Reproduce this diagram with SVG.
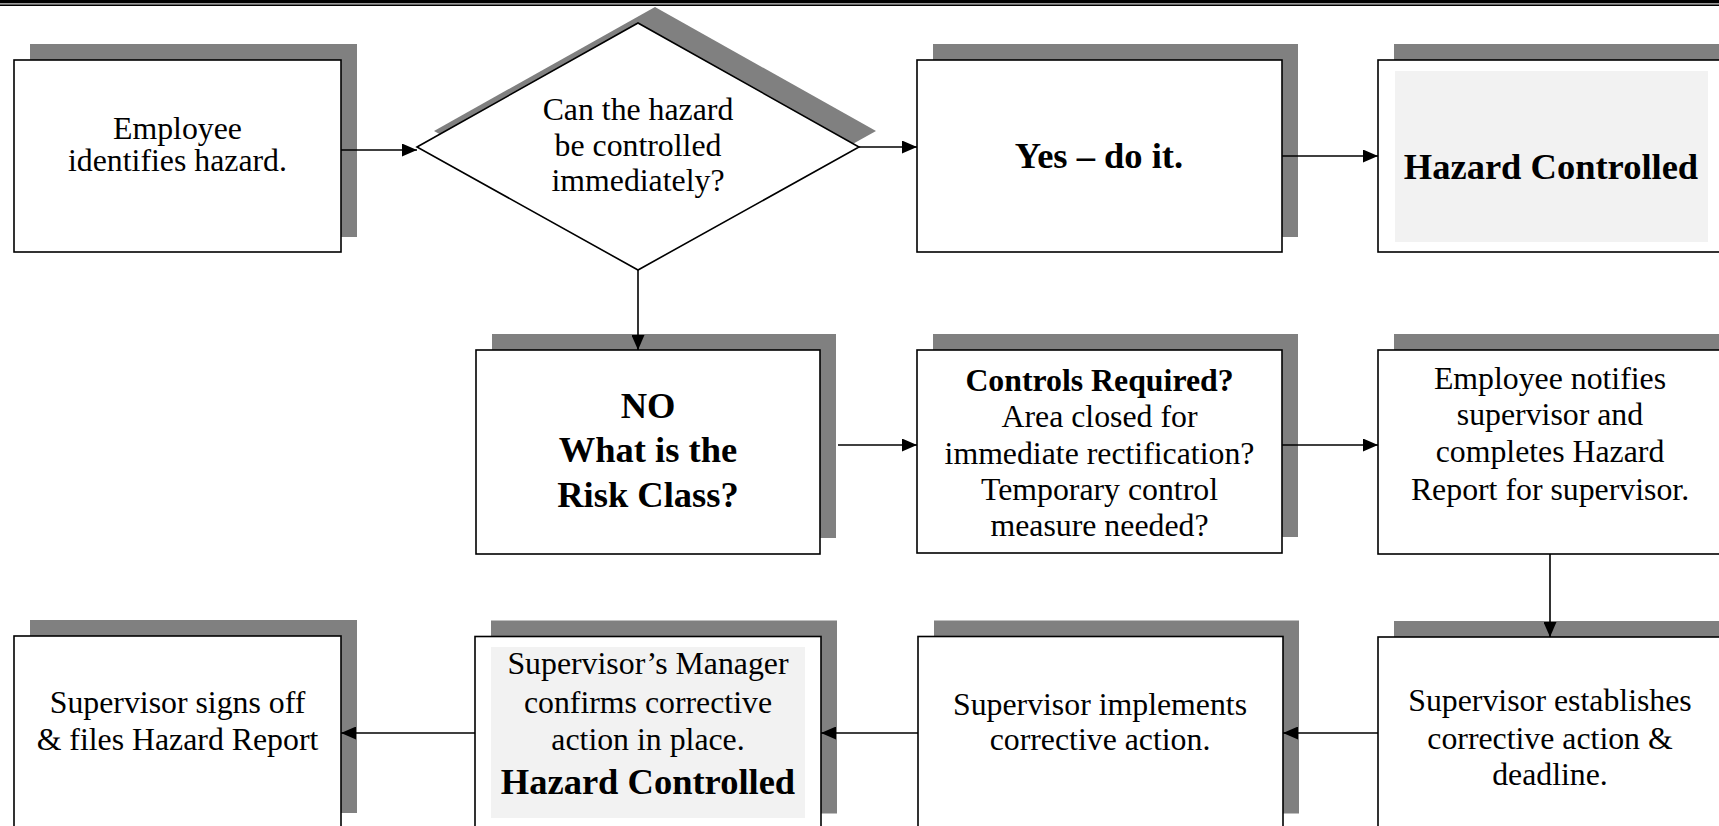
<svg xmlns="http://www.w3.org/2000/svg" width="1719" height="826" viewBox="0 0 1719 826">
<style>
.box{fill:#fff;stroke:#000;stroke-width:1.6}
.sh{fill:#808080}
.gf{fill:#f2f2f2}
.t{font-family:"Liberation Serif","Times New Roman",serif;font-size:31.8px;fill:#000;text-anchor:middle}
.b{font-weight:bold}
.big{font-size:36.5px}
.c{stroke:#000;stroke-width:1.6;fill:none;marker-end:url(#ah)}
</style>
<defs>
<marker id="ah" markerUnits="userSpaceOnUse" markerWidth="15" markerHeight="13" refX="15" refY="6.5" orient="auto">
<path d="M0,0 L15,6.5 L0,13 z" fill="#000"/>
</marker>
</defs>
<rect x="0" y="0" width="1719" height="826" fill="#fff"/>
<rect x="0" y="0" width="1719" height="3.4" fill="#000"/>
<rect x="0" y="4.4" width="1719" height="1.6" fill="#000"/>

<g id="n1">
<rect class="sh" x="30" y="44" width="327" height="193"/>
<rect class="box" x="14" y="60" width="327" height="192"/>
<text class="t" x="177.5" y="139">Employee</text>
<text class="t" x="177.5" y="171">identifies hazard.</text>
</g>

<g id="n2">
<polygon class="sh" points="434,131 655,7 876,131 655,254"/>
<polygon class="box" points="417,147 638,23 859,147 638,270"/>
<text class="t" x="638" y="120">Can the hazard</text>
<text class="t" x="638" y="155.5">be controlled</text>
<text class="t" x="638" y="191">immediately?</text>
</g>

<g id="n3">
<rect class="sh" x="933" y="44" width="365" height="193"/>
<rect class="box" x="917" y="60" width="365" height="192"/>
<text class="t b big" x="1099" y="168">Yes – do it.</text>
</g>

<g id="n4">
<rect class="sh" x="1394" y="44" width="346" height="193"/>
<rect class="box" x="1378" y="60" width="346" height="192"/>
<rect class="gf" x="1395" y="71" width="313" height="171"/>
<text class="t b big" x="1551" y="179">Hazard Controlled</text>
</g>

<g id="n5">
<rect class="sh" x="492" y="334" width="344" height="204"/>
<rect class="box" x="476" y="350" width="344" height="204"/>
<text class="t b big" x="648" y="418">NO</text>
<text class="t b big" x="648" y="462">What is the</text>
<text class="t b big" x="648" y="506.5">Risk Class?</text>
</g>

<g id="n6">
<rect class="sh" x="933" y="334" width="365" height="203"/>
<rect class="box" x="917" y="350" width="365" height="203"/>
<text class="t b" x="1099.5" y="391">Controls Required?</text>
<text class="t" x="1099.5" y="426.5">Area closed for</text>
<text class="t" x="1099.5" y="463.5">immediate rectification?</text>
<text class="t" x="1099.5" y="500">Temporary control</text>
<text class="t" x="1099.5" y="536">measure needed?</text>
</g>

<g id="n7">
<rect class="sh" x="1394" y="334" width="346" height="204"/>
<rect class="box" x="1378" y="350" width="346" height="204"/>
<text class="t" x="1550" y="389">Employee notifies</text>
<text class="t" x="1550" y="425">supervisor and</text>
<text class="t" x="1550" y="462">completes Hazard</text>
<text class="t" x="1550" y="499.5">Report for supervisor.</text>
</g>

<g id="n8">
<rect class="sh" x="1394" y="621" width="346" height="193"/>
<rect class="box" x="1378" y="637" width="346" height="193"/>
<text class="t" x="1550" y="711">Supervisor establishes</text>
<text class="t" x="1550" y="748.5">corrective action &amp;</text>
<text class="t" x="1550" y="785">deadline.</text>
</g>

<g id="n9">
<rect class="sh" x="934" y="620.5" width="365" height="193"/>
<rect class="box" x="918" y="636.5" width="365" height="193"/>
<text class="t" x="1100" y="715">Supervisor implements</text>
<text class="t" x="1100" y="750">corrective action.</text>
</g>

<g id="n10">
<rect class="sh" x="491" y="620.5" width="346" height="193"/>
<rect class="box" x="475" y="636.5" width="346" height="193"/>
<rect class="gf" x="491" y="647" width="314" height="171"/>
<text class="t" x="648" y="674">Supervisor’s Manager</text>
<text class="t" x="648" y="712.5">confirms corrective</text>
<text class="t" x="648" y="750">action in place.</text>
<text class="t b big" x="648" y="794">Hazard Controlled</text>
</g>

<g id="n11">
<rect class="sh" x="30" y="620" width="327" height="193"/>
<rect class="box" x="14" y="636" width="327" height="193"/>
<text class="t" x="177.5" y="713">Supervisor signs off</text>
<text class="t" x="177.5" y="750">&amp; files Hazard Report</text>
</g>

<g id="connectors">
<line class="c" x1="341" y1="150" x2="417" y2="150"/>
<line class="c" x1="859" y1="147" x2="917" y2="147"/>
<line class="c" x1="1282" y1="156" x2="1378" y2="156"/>
<line class="c" x1="638" y1="270" x2="638" y2="350"/>
<line class="c" x1="838" y1="445" x2="917" y2="445"/>
<line class="c" x1="1282" y1="445" x2="1378" y2="445"/>
<line class="c" x1="1550" y1="554" x2="1550" y2="637"/>
<line class="c" x1="1378" y1="733" x2="1283" y2="733"/>
<line class="c" x1="918" y1="733" x2="821" y2="733"/>
<line class="c" x1="475" y1="733" x2="341" y2="733"/>
</g>
</svg>
